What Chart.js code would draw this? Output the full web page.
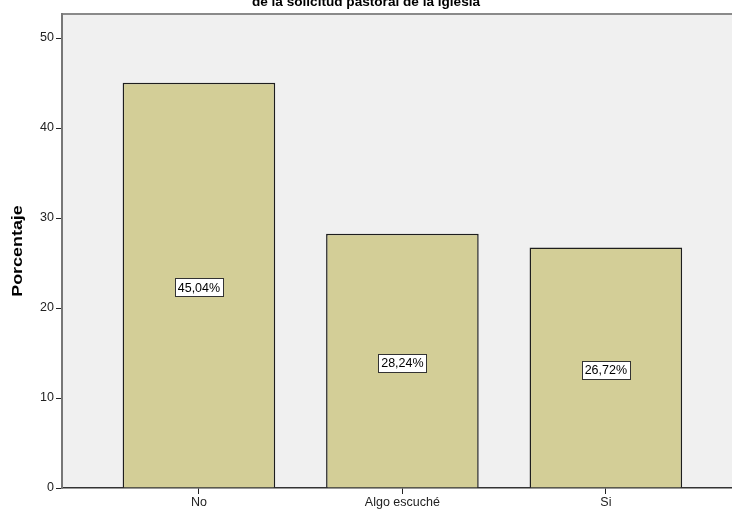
<!DOCTYPE html>
<html>
<head>
<meta charset="utf-8">
<script src="https://cdn.jsdelivr.net/npm/chart.js@4/dist/chart.umd.min.js"></script>
<style>
  html, body { margin: 0; padding: 0; background: #fff; }
  #wrap { width: 732px; height: 513px; }
</style>
</head>
<body>
<div id="wrap"><canvas id="chart"></canvas></div>
<script>
const categories = ['No', 'Algo escuché', 'Si'];
const percentages = [45.04, 28.24, 26.72];
const yTicks = [0, 10, 20, 30, 40, 50];
const titleText = 'de la solicitud pastoral de la iglesia';
const yTitle = 'Porcentaje';

const FONT = '"Liberation Sans", Arial, sans-serif';

// grey plot background + top border line
const plotBg = {
  id: 'plotBg',
  beforeDraw(chart) {
    const { ctx, chartArea: a } = chart;
    ctx.save();
    ctx.fillStyle = '#f0f0f0';
    ctx.fillRect(a.left, a.top, a.right - a.left, a.bottom - a.top);
    ctx.strokeStyle = '#8a8a8a';
    ctx.lineWidth = 2;
    ctx.beginPath();
    ctx.moveTo(a.left, a.top);
    ctx.lineTo(a.right, a.top);
    ctx.stroke();
    ctx.restore();
  }
};

// cut off title at the top and the stretched y axis title
const texts = {
  id: 'texts',
  afterDraw(chart) {
    const { ctx, chartArea: a } = chart;
    ctx.save();
    ctx.font = 'bold 13.6px ' + FONT;
    ctx.fillStyle = '#000';
    ctx.textAlign = 'center';
    ctx.textBaseline = 'alphabetic';
    ctx.fillText(titleText, chart.width / 2, 6);
    ctx.restore();

    ctx.save();
    ctx.translate(18.5, (a.top + a.bottom) / 2);
    ctx.rotate(-Math.PI / 2);
    ctx.scale(1.28, 1);
    ctx.font = 'bold 14px ' + FONT;
    ctx.fillStyle = '#000';
    ctx.textAlign = 'center';
    ctx.textBaseline = 'middle';
    ctx.fillText(yTitle, 0, 0);
    ctx.restore();
  }
};

// boxed percentage labels in the middle of each bar
const boxLabels = {
  id: 'boxLabels',
  afterDatasetsDraw(chart) {
    const { ctx } = chart;
    const meta = chart.getDatasetMeta(0);
    const yScale = chart.scales.y;
    ctx.save();
    ctx.font = '12.5px ' + FONT;
    ctx.textAlign = 'center';
    ctx.textBaseline = 'middle';
    meta.data.forEach((bar, i) => {
      const v = percentages[i];
      const txt = v.toFixed(2).replace('.', ',') + '%';
      const cy = yScale.getPixelForValue(v / 2) + 2;
      const w = Math.round(ctx.measureText(txt).width + 6);
      const h = 18;
      const x0 = Math.round(bar.x - w / 2) + 0.5;
      const y0 = Math.round(cy - h / 2) + 0.5;
      ctx.fillStyle = '#fff';
      ctx.fillRect(x0, y0, w, h);
      ctx.strokeStyle = '#333';
      ctx.lineWidth = 1;
      ctx.strokeRect(x0, y0, w, h);
      ctx.fillStyle = '#000';
      ctx.fillText(txt, bar.x, cy + 1);
    });
    ctx.restore();
  }
};

new Chart(document.getElementById('chart'), {
  type: 'bar',
  data: {
    datasets: [{
      data: percentages.map((v, i) => ({ x: i, y: v })),
      backgroundColor: '#d3ce97',
      borderColor: '#1e1e1e',
      borderWidth: 1.5,
      borderSkipped: 'bottom',
      barPercentage: 0.75,
      categoryPercentage: 1
    }]
  },
  options: {
    responsive: true,
    maintainAspectRatio: false,
    animation: false,
    layout: { padding: { top: 14, right: 0, left: 0, bottom: 0 } },
    plugins: {
      legend: { display: false },
      tooltip: { enabled: false },
      title: { display: false }
    },
    scales: {
      x: {
        type: 'linear',
        offset: false,
        min: -0.673,
        max: 2.62,
        afterBuildTicks: (s) => { s.ticks = categories.map((c, i) => ({ value: i })); },
        afterFit: (s) => { s.height = 25; },
        ticks: {
          callback: (v) => categories[v],
          font: { family: FONT, size: 12.5 },
          color: '#222',
          padding: 1,
          maxRotation: 0,
          autoSkip: false
        },
        grid: { offset: false, drawOnChartArea: false, drawTicks: true, tickLength: 6, color: '#222' },
        border: { display: true, color: '#333', width: 1.5 }
      },
      y: {
        min: 0,
        max: 52.67,
        afterBuildTicks: (s) => { s.ticks = yTicks.map(v => ({ value: v })); },
        afterFit: (s) => { s.width = 62; },
        ticks: {
          font: { family: FONT, size: 12.5 },
          color: '#222',
          padding: 2
        },
        grid: { drawOnChartArea: false, drawTicks: true, tickLength: 6, color: '#222' },
        border: { display: true, color: '#777', width: 2 }
      }
    }
  },
  plugins: [plotBg, texts, boxLabels]
});
</script>
</body>
</html>
